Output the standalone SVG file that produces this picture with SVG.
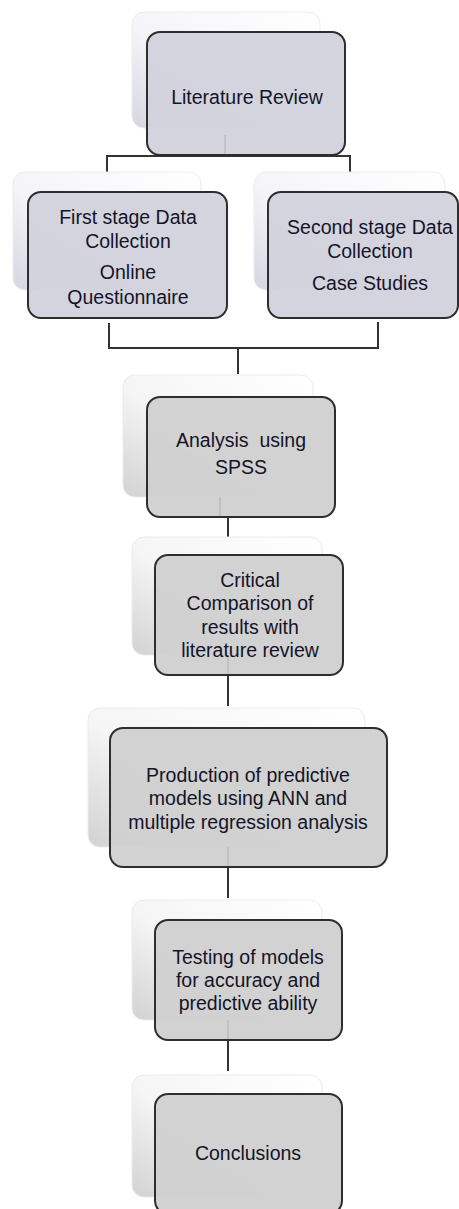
<svg xmlns="http://www.w3.org/2000/svg" width="459" height="1209" viewBox="0 0 459 1209">
  <defs>
    <linearGradient id="backGrad" x1="1" y1="0" x2="0" y2="1">
      <stop offset="0" stop-color="#ffffff"/>
      <stop offset="0.55" stop-color="#f5f5f5"/>
      <stop offset="1" stop-color="#d2d2d2"/>
    </linearGradient>
    <linearGradient id="backGradL" x1="1" y1="0" x2="0" y2="1">
      <stop offset="0" stop-color="#ffffff"/>
      <stop offset="0.55" stop-color="#f5f5f9"/>
      <stop offset="1" stop-color="#d6d6e0"/>
    </linearGradient>
    <style>
      .back { fill: url(#backGrad); stroke: #ebebeb; stroke-width: 1; }
      .backL { fill: url(#backGradL); stroke: #ebebf1; stroke-width: 1; }
      .front { fill: #d0d0d0; stroke: #2e2e2e; stroke-width: 2; fill-opacity: 0.95; }
      .frontL { fill: #d2d2dc; stroke: #2e2e2e; stroke-width: 2; fill-opacity: 0.95; }
      .conn { fill: none; stroke: #333333; stroke-width: 2; }
      .faint { fill: none; stroke: #b0b0b0; stroke-width: 1; }
      .t { font-family: "Liberation Sans", Arial, sans-serif; font-size: 19.5px; fill: #141428; text-anchor: middle; white-space: pre; }
    </style>
  </defs>
  <rect width="459" height="1209" fill="#ffffff"/>

  <g id="connectors">
    <path class="conn" d="M107,174 V156 H350 V174"/>
    <path class="conn" d="M109,323 V348 H378 V322"/>
    <path class="conn" d="M238,348 V374"/>
    <path class="conn" d="M228,517 V537"/>
    <path class="conn" d="M228,675 V706"/>
    <path class="conn" d="M228,867 V898"/>
    <path class="conn" d="M228,1040 V1071"/>
  </g>

  <g id="node-literature-review">
    <rect class="backL" x="132" y="12" width="188" height="116" rx="12"/>
    <rect class="frontL" x="147" y="32" width="198" height="123" rx="13"/>
    <line class="faint" x1="225" y1="135" x2="225" y2="154"/>
    <text class="t" x="247" y="104" font-size="21">Literature Review</text>
  </g>

  <g id="node-first-stage">
    <rect class="backL" x="13" y="172" width="188" height="118" rx="12"/>
    <rect class="frontL" x="28" y="192" width="199" height="126" rx="13"/>
    <text class="t" x="128" y="224">First stage Data</text>
    <text class="t" x="128" y="248">Collection</text>
    <text class="t" x="128" y="279">Online</text>
    <text class="t" x="128" y="304">Questionnaire</text>
  </g>

  <g id="node-second-stage">
    <rect class="backL" x="254" y="172" width="191" height="118" rx="12"/>
    <rect class="frontL" x="268" y="192" width="190" height="126" rx="13"/>
    <text class="t" x="370" y="234">Second stage Data</text>
    <text class="t" x="370" y="258">Collection</text>
    <text class="t" x="370" y="290">Case Studies</text>
  </g>

  <g id="node-analysis">
    <rect class="back" x="123" y="375" width="190" height="122" rx="12"/>
    <rect class="front" x="147" y="397" width="188" height="120" rx="13"/>
    <line class="faint" x1="220" y1="497" x2="220" y2="516"/>
    <text class="t" x="241" y="447">Analysis  using</text>
    <text class="t" x="241" y="474">SPSS</text>
  </g>

  <g id="node-critical">
    <rect class="back" x="132" y="537" width="190" height="118" rx="12"/>
    <rect class="front" x="155" y="555" width="188" height="120" rx="13"/>
    <line class="faint" x1="228" y1="655" x2="228" y2="674"/>
    <text class="t" x="250" y="587">Critical</text>
    <text class="t" x="250" y="610">Comparison of</text>
    <text class="t" x="250" y="634">results with</text>
    <text class="t" x="250" y="657">literature review</text>
  </g>

  <g id="node-production">
    <rect class="back" x="88" y="708" width="277" height="139" rx="12"/>
    <rect class="front" x="110" y="728" width="277" height="139" rx="13"/>
    <line class="faint" x1="228" y1="847" x2="228" y2="866"/>
    <text class="t" x="248" y="782">Production of predictive</text>
    <text class="t" x="248" y="805">models using ANN and</text>
    <text class="t" x="248" y="829">multiple regression analysis</text>
  </g>

  <g id="node-testing">
    <rect class="back" x="132" y="900" width="190" height="120" rx="12"/>
    <rect class="front" x="155" y="920" width="187" height="120" rx="13"/>
    <line class="faint" x1="228" y1="1020" x2="228" y2="1039"/>
    <text class="t" x="248" y="964">Testing of models</text>
    <text class="t" x="248" y="987">for accuracy and</text>
    <text class="t" x="248" y="1010">predictive ability</text>
  </g>

  <g id="node-conclusions">
    <rect class="back" x="132" y="1075" width="190" height="122" rx="12"/>
    <rect class="front" x="155" y="1094" width="187" height="120" rx="13"/>
    <text class="t" x="248" y="1160">Conclusions</text>
  </g>
</svg>
